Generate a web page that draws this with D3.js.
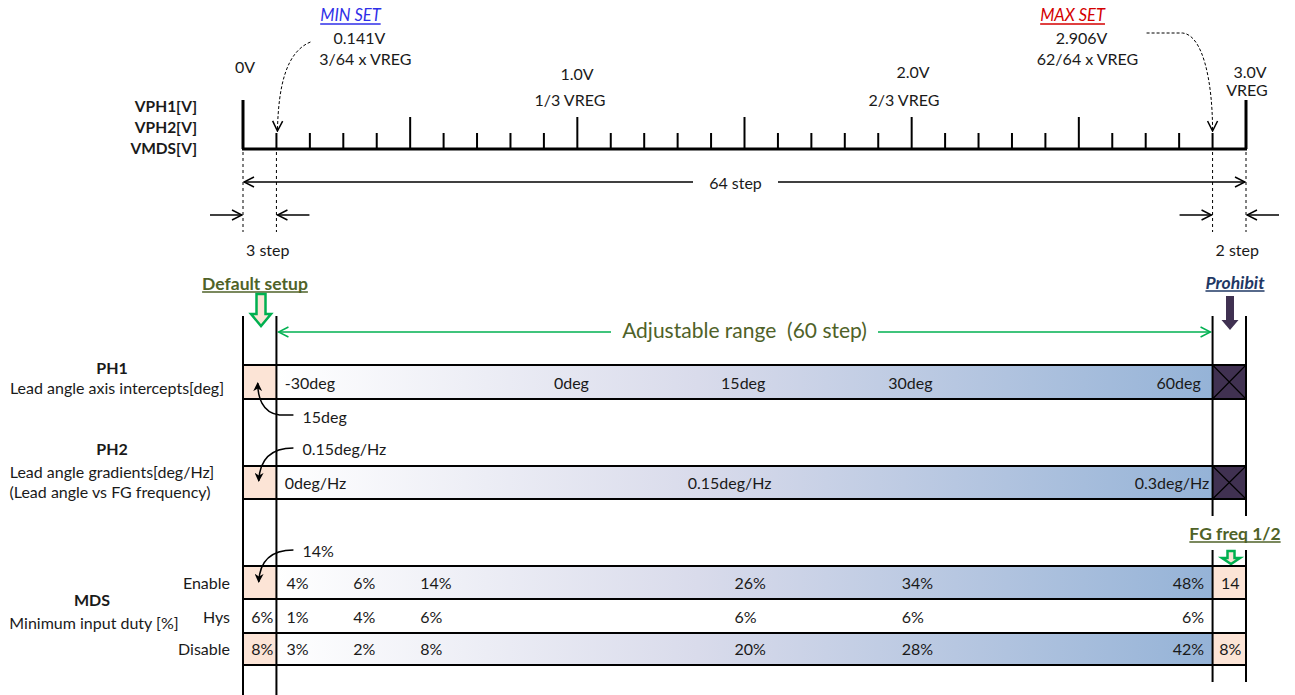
<!DOCTYPE html>
<html><head><meta charset="utf-8">
<script src="https://cdn.jsdelivr.net/npm/d3@7"></script>
<style>
html,body{margin:0;padding:0;background:#fff;}
svg{display:block;font-family:Lato,"Open Sans",sans-serif;}
</style></head>
<body><svg id="c" width="1295" height="695"></svg>
<script>
// ---------------- data ----------------
const axisNames = ["VPH1[V]", "VPH2[V]", "VMDS[V]"];
const majorVolts = [0, 1, 2, 3];
const majorTop = ["0V", "1.0V", "2.0V", "3.0V"];
const majorSub = ["", "1/3 VREG", "2/3 VREG", "VREG"];
const tickVolts = d3.range(0, 31).map(i => i / 10);
const setNames = ["MIN SET", "MAX SET"];
const setVolts = [0.1, 2.9];
const setValues = ["0.141V", "2.906V"];
const setRatios = ["3/64 x VREG", "62/64 x VREG"];
const stepLabels = ["64 step", "3 step", "2 step"];
const rangeLabel = "Adjustable range  (60 step)";
const markerLabels = ["Default setup", "Prohibit", "FG freq 1/2"];

const ph1Title = ["PH1", "Lead angle axis intercepts[deg]"];
const ph1Labels = ["-30deg", "0deg", "15deg", "30deg", "60deg"];
const ph1At = [0.125, 0.93, 1.43, 1.93, 2.865];
const ph1Default = "15deg";

const ph2Title = ["PH2", "Lead angle gradients[deg/Hz]", "(Lead angle vs FG frequency)"];
const ph2Labels = ["0deg/Hz", "0.15deg/Hz", "0.3deg/Hz"];
const ph2At = [0.125, 1.33, 2.89];
const ph2Default = "0.15deg/Hz";

const mdsTitle = ["MDS", "Minimum input duty [%]"];
const mdsRows = ["Enable", "Hys", "Disable"];
const mdsAt = [0.13, 0.33, 0.53, 1.47, 1.97, 2.875];
const mdsEnable = ["4%", "6%", "14%", "26%", "34%", "48%"];
const mdsHys = ["1%", "4%", "6%", "6%", "6%", "6%"];
const mdsDisable = ["3%", "2%", "8%", "20%", "28%", "42%"];
const mdsDefault = "14%";
const mdsLeftCells = ["", "6%", "8%"];
const mdsRightCells = ["14", "", "8%"];

// ---------------- drawing ----------------
const svg = d3.select("#c");
const x = d3.scaleLinear().domain([0, 3]).range([243, 1246]);
const FS = 16;
const txt = "#1a1a1a";

const defs = svg.append("defs");
function vMarker(id, color) {
  defs.append("marker").attr("id", id).attr("viewBox", "0 0 12 12")
    .attr("refX", 11).attr("refY", 6).attr("markerWidth", 12).attr("markerHeight", 12)
    .attr("markerUnits", "userSpaceOnUse").attr("orient", "auto-start-reverse")
    .append("path").attr("d", "M1,1 L11,6 L1,11").attr("fill", "none")
    .attr("stroke", color).attr("stroke-width", 1.5);
}
vMarker("vb", "#000");
vMarker("vg", "#00b050");
defs.append("marker").attr("id", "fb").attr("viewBox", "0 0 10 10")
  .attr("refX", 9).attr("refY", 5).attr("markerWidth", 9).attr("markerHeight", 9)
  .attr("markerUnits", "userSpaceOnUse").attr("orient", "auto")
  .append("path").attr("d", "M0,0 L10,5 L0,10 L3,5 Z").attr("fill", "#000");

const grad = defs.append("linearGradient").attr("id", "bg").attr("x1", "0").attr("x2", "1").attr("y1", "0").attr("y2", "0");
grad.append("stop").attr("offset", "0").attr("stop-color", "#ffffff");
grad.append("stop").attr("offset", "0.45").attr("stop-color", "#d9dbeb");
grad.append("stop").attr("offset", "1").attr("stop-color", "#95b3d7");

function text(t, px, py, opts = {}) {
  const e = svg.append("text").attr("x", px).attr("y", py).text(t)
    .attr("dominant-baseline", "central")
    .attr("text-anchor", opts.anchor || "middle")
    .attr("font-size", opts.size || FS)
    .attr("fill", opts.color || txt);
  if (opts.bold) e.attr("font-weight", "bold");
  if (opts.italic) e.attr("font-style", "italic");
  return e;
}
function underlined(t, cx, cy, opts) {
  const e = text(t, cx, cy, opts);
  const w = e.node().getComputedTextLength();
  svg.append("line").attr("x1", cx - w / 2).attr("x2", cx + w / 2)
    .attr("y1", cy + 9).attr("y2", cy + 9).attr("stroke", opts.color).attr("stroke-width", 1.3);
}

// axis names
axisNames.forEach((n, i) => text(n, 197, 106 + i * 21, { anchor: "end", bold: true, size: 15.5 }));

// axis baseline and ticks
const axisY = 149;
svg.append("line").attr("x1", x(0) - 1).attr("x2", x(3) + 1).attr("y1", axisY).attr("y2", axisY)
  .attr("stroke", "#000").attr("stroke-width", 3);
svg.selectAll(".tk").data(tickVolts).join("line").attr("class", "tk")
  .attr("x1", d => x(d)).attr("x2", d => x(d)).attr("y1", axisY)
  .attr("y2", (d, i) => (i === 0 || i === 30) ? 100 : (i % 5 === 0 ? 117 : 133))
  .attr("stroke", "#000").attr("stroke-width", (d, i) => (i === 0 || i === 30) ? 3 : 2);

// major labels
const majTopPos = [[245, 66], [577, 73], [913, 71], [1250, 71]];
const majSubPos = [[0, 0], [570, 99], [904, 99], [1247, 89]];
majorVolts.forEach((v, i) => {
  text(majorTop[i], x(v) + (majTopPos[i][0] - x(v)), majTopPos[i][1]);
  if (majorSub[i]) text(majorSub[i], x(v) + (majSubPos[i][0] - x(v)), majSubPos[i][1]);
});

// MIN / MAX SET labels
const setColors = ["#2f2fe8", "#d40000"];
const setOff = [86, -128];
setVolts.forEach((v, i) => {
  const cx = x(v) + setOff[i];
  underlined(setNames[i], cx - 12, 15, { italic: true, color: setColors[i], size: 16.5 });
  text(setValues[i], cx - 3, 37);
  text(setRatios[i], cx + 3, 58);
});
// dashed curved arrows
svg.append("path").attr("d", `M${x(0.1) + 34},42 C${x(0.1) + 10},52 ${x(0.1) + 2},85 ${x(0.1) + 1},131`)
  .attr("fill", "none").attr("stroke", "#000").attr("stroke-width", 1).attr("stroke-dasharray", "3,2")
  .attr("marker-end", "url(#vb)");
svg.append("path").attr("d", `M${x(2.9) - 66},33 L${x(2.9) - 30},33 C${x(2.9) - 10},35 ${x(2.9)},80 ${x(2.9)},131`)
  .attr("fill", "none").attr("stroke", "#000").attr("stroke-width", 1).attr("stroke-dasharray", "3,2")
  .attr("marker-end", "url(#vb)");

// dashed verticals
[0, 0.1, 2.9, 3].forEach(v => {
  svg.append("line").attr("x1", x(v)).attr("x2", x(v)).attr("y1", 152).attr("y2", 232)
    .attr("stroke", "#000").attr("stroke-width", 1).attr("stroke-dasharray", "3,3");
});

// 64 step arrow
const gapL = 693, gapR = 778;
svg.append("line").attr("x1", x(0) + 1).attr("x2", gapL).attr("y1", 182).attr("y2", 182)
  .attr("stroke", "#000").attr("stroke-width", 1.5).attr("marker-start", "url(#vb)");
svg.append("line").attr("x1", gapR).attr("x2", x(3) - 1).attr("y1", 182).attr("y2", 182)
  .attr("stroke", "#000").attr("stroke-width", 1.5).attr("marker-end", "url(#vb)");
text(stepLabels[0], (gapL + gapR) / 2, 182);

// small step arrows
function arr(x1, x2, y) {
  svg.append("line").attr("x1", x1).attr("x2", x2).attr("y1", y).attr("y2", y)
    .attr("stroke", "#000").attr("stroke-width", 1.5).attr("marker-end", "url(#vb)");
}
arr(x(0) - 33, x(0) - 1, 215);
arr(x(0.1) + 33, x(0.1) + 1, 215);
arr(x(2.9) - 33, x(2.9) - 1, 215);
arr(x(3) + 33, x(3) + 1, 215);
text(stepLabels[1], (x(0) + x(0.1)) / 2 + 8, 249);
text(stepLabels[2], (x(2.9) + x(3)) / 2 + 8, 249);

// block arrow helper
function blockArrow(cx, y0, y1, sw, hw, hy, fill, stroke) {
  const p = `M${cx - sw / 2},${y0} L${cx + sw / 2},${y0} L${cx + sw / 2},${hy} L${cx + hw / 2},${hy} L${cx},${y1} L${cx - hw / 2},${hy} L${cx - sw / 2},${hy} Z`;
  svg.append("path").attr("d", p).attr("fill", fill).attr("stroke", stroke).attr("stroke-width", stroke === "none" ? 0 : 2.5)
    .attr("stroke-linejoin", "miter");
}

// markers
const olive = "#4f6228";
underlined(markerLabels[0], 255, 283, { bold: true, color: olive, size: 17.5 });
blockArrow(261, 294, 326, 9, 20, 314, "#fce4d6", "#00b050");
underlined(markerLabels[1], 1235, 282, { bold: true, italic: true, color: "#1f3864", size: 17.5 });
blockArrow(1230, 296, 330, 8, 17, 320, "#403151", "none");
underlined(markerLabels[2], 1235, 533, { bold: true, color: olive, size: 17.5 });
blockArrow(1231, 551, 564, 7, 18, 558, "#fce4d6", "#00b050");

// adjustable range arrow
const rL = 611, rR = 878;
svg.append("line").attr("x1", x(0.1) + 2).attr("x2", rL).attr("y1", 332).attr("y2", 332)
  .attr("stroke", "#00b050").attr("stroke-width", 1.5).attr("marker-start", "url(#vg)");
svg.append("line").attr("x1", rR).attr("x2", x(2.9) - 2).attr("y1", 332).attr("y2", 332)
  .attr("stroke", "#00b050").attr("stroke-width", 1.5).attr("marker-end", "url(#vg)");
text(rangeLabel, (rL + rR) / 2, 329, { size: 21, color: olive }).attr("xml:space", "preserve");

// row backgrounds
function row(y0, y1, leftFill, midFill, rightFill, cross) {
  svg.append("rect").attr("x", x(0)).attr("y", y0).attr("width", x(0.1) - x(0)).attr("height", y1 - y0).attr("fill", leftFill);
  svg.append("rect").attr("x", x(0.1)).attr("y", y0).attr("width", x(2.9) - x(0.1)).attr("height", y1 - y0).attr("fill", midFill);
  svg.append("rect").attr("x", x(2.9)).attr("y", y0).attr("width", x(3) - x(2.9)).attr("height", y1 - y0).attr("fill", rightFill);
  if (cross) {
    svg.append("path").attr("d", `M${x(2.9)},${y0} L${x(3)},${y1} M${x(3)},${y0} L${x(2.9)},${y1}`)
      .attr("stroke", "#000").attr("stroke-width", 1.2);
  }
}
function hline(y) {
  svg.append("line").attr("x1", x(0)).attr("x2", x(3)).attr("y1", y).attr("y2", y)
    .attr("stroke", "#000").attr("stroke-width", 2);
}
const peach = "#fce4d6";
row(365, 399, peach, "url(#bg)", "#403151", true);
row(466, 499, peach, "url(#bg)", "#403151", true);
row(566, 599, peach, "url(#bg)", peach, false);
row(599, 633, "#fff", "#fff", "#fff", false);
row(633, 665, peach, "url(#bg)", peach, false);
[365, 399, 466, 499, 566, 599, 633, 665].forEach(hline);

// vertical lines
[[x(0), 316, 695], [x(0.1), 316, 695], [x(2.9), 316, 516], [x(3), 316, 516], [x(2.9), 550, 682], [x(3), 550, 682]]
  .forEach(([vx, a, b]) => svg.append("line").attr("x1", vx).attr("x2", vx).attr("y1", a).attr("y2", b)
    .attr("stroke", "#000").attr("stroke-width", 2));

// row titles
text(ph1Title[0], 112, 367, { bold: true });
text(ph1Title[1], 117, 387);
text(ph2Title[0], 112, 448, { bold: true });
text(ph2Title[1], 112, 471);
text(ph2Title[2], 110, 491);
text(mdsTitle[0], 92, 599, { bold: true });
text(mdsTitle[1], 94, 622);
const mdsY = [582, 616, 648];
mdsRows.forEach((r, i) => text(r, 230, mdsY[i], { anchor: "end" }));

// values in bars
ph1Labels.forEach((l, i) => text(l, x(ph1At[i]), 382, { anchor: i === ph1Labels.length - 1 ? "end" : "start" }));
ph2Labels.forEach((l, i) => text(l, x(ph2At[i]), 482, { anchor: i === ph2Labels.length - 1 ? "end" : "start" }));
[mdsEnable, mdsHys, mdsDisable].forEach((arrv, r) => {
  arrv.forEach((l, i) => text(l, x(mdsAt[i]), mdsY[r], { anchor: i === arrv.length - 1 ? "end" : "start" }));
  if (mdsLeftCells[r]) text(mdsLeftCells[r], x(0.1) - 3, mdsY[r], { anchor: "end" });
  if (mdsRightCells[r]) text(mdsRightCells[r], (x(2.9) + x(3)) / 2 + 1, mdsY[r]);
});

// callouts
const cx0 = (x(0) + x(0.1)) / 2;
function callout(label, ty, tipY, up) {
  text(label, x(0.1) + 26, ty, { anchor: "start" });
  const sx = x(0.1) + 17;
  const d = up
    ? `M${sx},${ty - 1} L${sx - 14},${ty - 1} C${cx0 + 2},${ty - 3} ${cx0 - 2},${ty - 20} ${cx0 - 2},${tipY}`
    : `M${sx},${ty} C${cx0 + 12},${ty} ${cx0},${ty + 10} ${cx0 - 1},${tipY}`;
  svg.append("path").attr("d", d).attr("fill", "none").attr("stroke", "#000").attr("stroke-width", 1.5)
    .attr("marker-end", "url(#fb)");
}
callout(ph1Default, 416, 383, true);
callout(ph2Default, 448, 481, false);
callout(mdsDefault, 550, 582, false);
</script>
</body></html>
